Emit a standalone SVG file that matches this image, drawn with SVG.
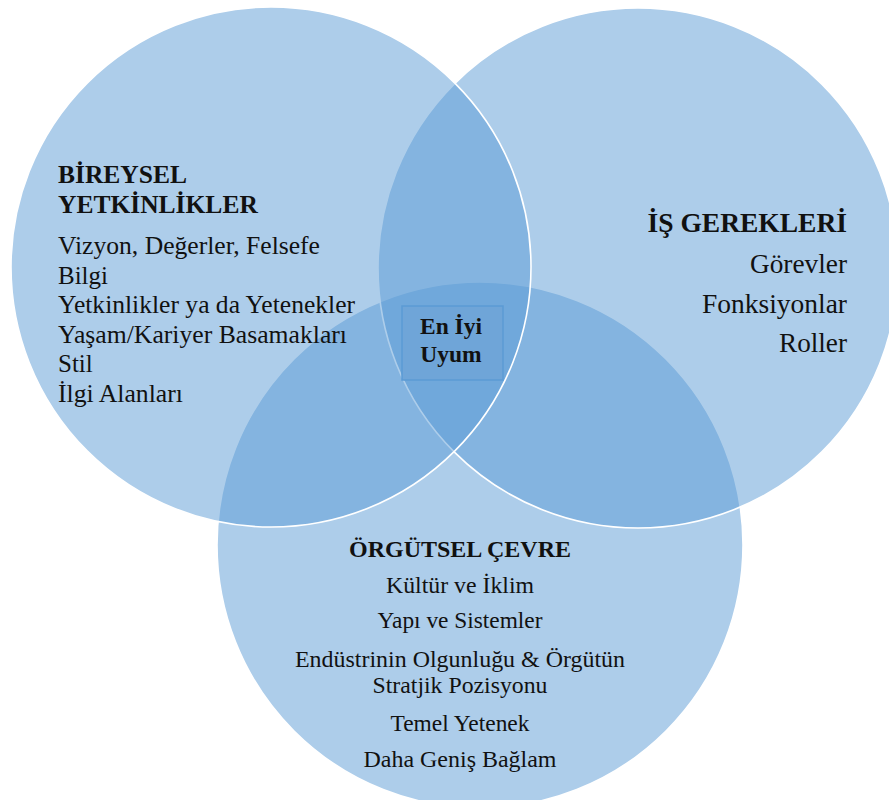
<svg xmlns="http://www.w3.org/2000/svg" width="889" height="800" viewBox="0 0 889 800">
<style>
.c{fill:#5B9BD5;fill-opacity:0.5;stroke:#FFFFFF;stroke-width:1.6}
.t{font-family:"Liberation Serif","Times New Roman","DejaVu Serif",serif;font-weight:normal;font-style:normal;fill:#111}
.b{font-weight:bold}
</style>
<rect width="889" height="800" fill="#FFFFFF"/>
<g id="circle-orgutsel"><circle class="c" cx="480" cy="545" r="263"/></g>
<g id="circle-is"><circle class="c" cx="638" cy="268" r="260"/></g>
<g id="circle-bireysel"><circle class="c" cx="271" cy="267" r="260"/></g>
<g id="node-bireysel">
<text class="t b" x="58" y="183" font-size="25.5">BİREYSEL</text>
<text class="t b" x="58" y="213" font-size="25.5">YETKİNLİKLER</text>
<text class="t" x="58" y="254" font-size="25" textLength="262" lengthAdjust="spacingAndGlyphs">Vizyon, Değerler, Felsefe</text>
<text class="t" x="58" y="284" font-size="25">Bilgi</text>
<text class="t" x="58" y="313" font-size="25" textLength="297" lengthAdjust="spacingAndGlyphs">Yetkinlikler ya da Yetenekler</text>
<text class="t" x="58" y="342.5" font-size="25" textLength="289" lengthAdjust="spacingAndGlyphs">Yaşam/Kariyer Basamakları</text>
<text class="t" x="58" y="372" font-size="25">Stil</text>
<text class="t" x="58" y="401.5" font-size="25" textLength="125" lengthAdjust="spacingAndGlyphs">İlgi Alanları</text>
</g>
<g id="node-is" text-anchor="end">
<text class="t b" x="847" y="232" font-size="27.5">İŞ GEREKLERİ</text>
<text class="t" x="847" y="273" font-size="27.5" textLength="97" lengthAdjust="spacingAndGlyphs">Görevler</text>
<text class="t" x="847" y="313" font-size="27.5" textLength="145" lengthAdjust="spacingAndGlyphs">Fonksiyonlar</text>
<text class="t" x="847" y="352" font-size="27.5" textLength="68" lengthAdjust="spacingAndGlyphs">Roller</text>
</g>
<g id="node-orgutsel" text-anchor="middle">
<text class="t b" x="460" y="557" font-size="24">ÖRGÜTSEL ÇEVRE</text>
<text class="t" x="460" y="593" font-size="24" textLength="148" lengthAdjust="spacingAndGlyphs">Kültür ve İklim</text>
<text class="t" x="460" y="628" font-size="24" textLength="165" lengthAdjust="spacingAndGlyphs">Yapı ve Sistemler</text>
<text class="t" x="460" y="667" font-size="24" textLength="330" lengthAdjust="spacingAndGlyphs">Endüstrinin Olgunluğu &amp; Örgütün</text>
<text class="t" x="460" y="693" font-size="24" textLength="175" lengthAdjust="spacingAndGlyphs">Stratjik Pozisyonu</text>
<text class="t" x="460" y="731" font-size="24" textLength="139" lengthAdjust="spacingAndGlyphs">Temel Yetenek</text>
<text class="t" x="460" y="767" font-size="24" textLength="193" lengthAdjust="spacingAndGlyphs">Daha Geniş Bağlam</text>
</g>
<g id="node-uyum">
<rect x="402" y="306" width="101" height="74" fill="#6FA5D8" stroke="#5B9BD5" stroke-width="1.5"/>
<text class="t b" x="451" y="334" font-size="23.5" text-anchor="middle">En İyi</text>
<text class="t b" x="451" y="362" font-size="23.5" text-anchor="middle">Uyum</text>
</g>
<g id="connectors"></g>
</svg>
